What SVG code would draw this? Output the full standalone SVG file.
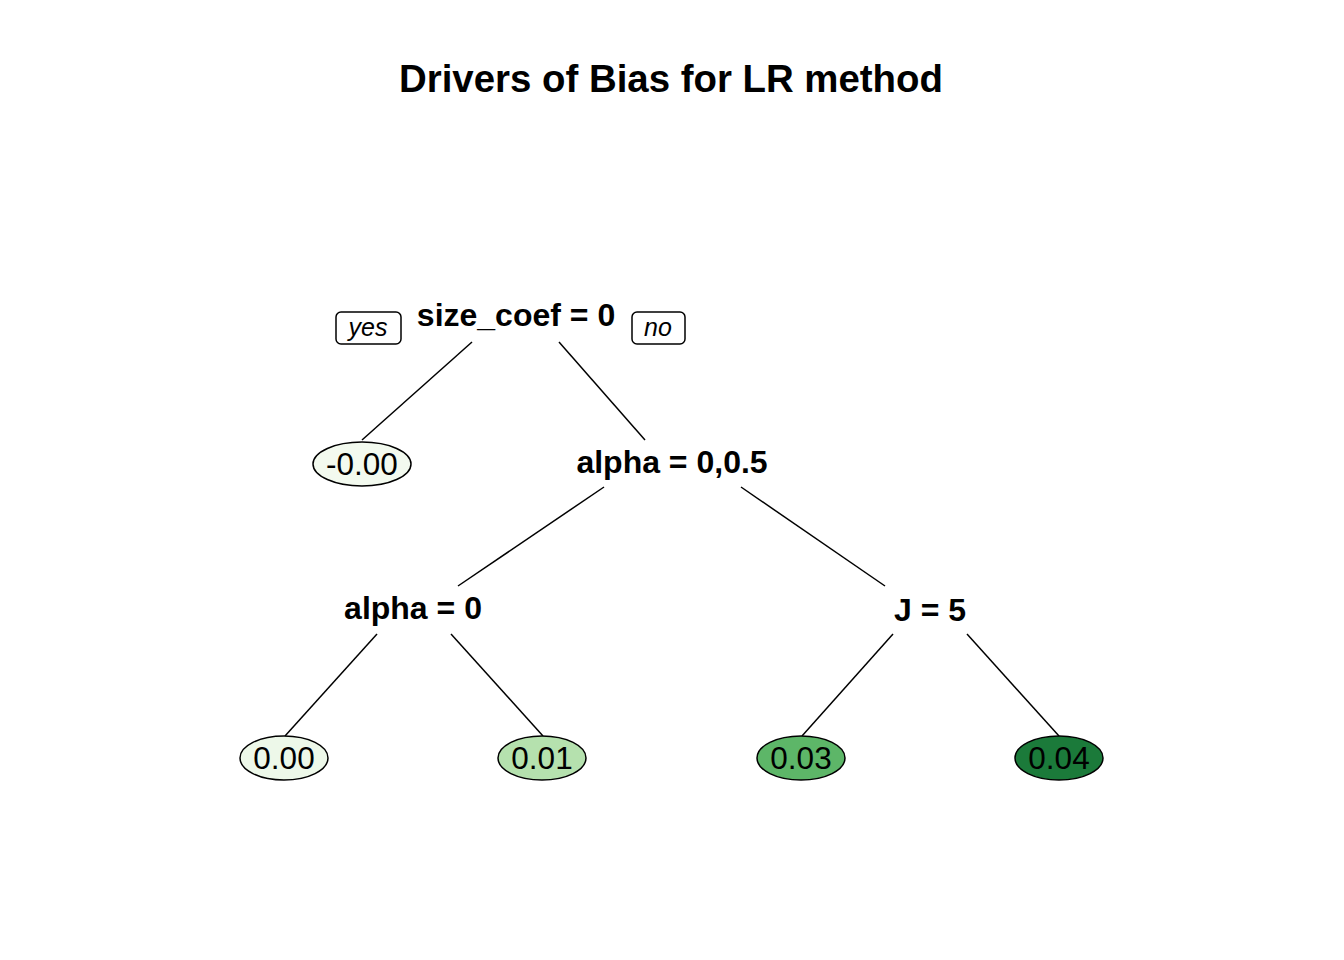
<svg xmlns="http://www.w3.org/2000/svg" width="1344" height="960" viewBox="0 0 1344 960">
<style>
.title{font-family:"Liberation Sans",Arial,sans-serif;font-weight:bold;font-size:38.4px;text-anchor:middle;fill:#000}
.split{font-family:"Liberation Sans",Arial,sans-serif;font-weight:bold;font-size:32px;text-anchor:middle;fill:#000}
.leaf{font-family:"Liberation Sans",Arial,sans-serif;font-size:31.5px;text-anchor:middle;fill:#000}
.yn{font-family:"Liberation Sans",Arial,sans-serif;font-style:italic;font-size:25px;text-anchor:middle;fill:#000}
.box{fill:#fff;stroke:#000;stroke-width:1.5}
.ell{stroke:#000;stroke-width:1.5}
.edge{stroke:#000;stroke-width:1.5;fill:none}
</style>
<rect width="1344" height="960" fill="#fff"/>
<text class="title" x="671" y="92">Drivers of Bias for LR method</text>
<g id="connectors">
<line class="edge" x1="472" y1="342" x2="362" y2="440"/>
<line class="edge" x1="559" y1="342" x2="645" y2="440"/>
<line class="edge" x1="604" y1="487" x2="458" y2="586"/>
<line class="edge" x1="741" y1="487" x2="885" y2="586"/>
<line class="edge" x1="377" y1="634" x2="285" y2="736"/>
<line class="edge" x1="451" y1="634" x2="543" y2="736"/>
<line class="edge" x1="893" y1="634" x2="802" y2="736"/>
<line class="edge" x1="967" y1="634" x2="1059" y2="736"/>
</g>
<g id="root">
<rect class="box" x="336" y="312" width="65" height="32" rx="5"/>
<text class="yn" x="368" y="336">yes</text>
<text class="split" x="516" y="326">size_coef = 0</text>
<rect class="box" x="632" y="312" width="53" height="32" rx="5"/>
<text class="yn" x="658" y="336">no</text>
</g>
<g id="leaf1">
<ellipse class="ell" cx="362" cy="464" rx="49" ry="22" fill="#F3FAEF"/>
<text class="leaf" x="362" y="475">-0.00</text>
</g>
<g id="node_alpha05">
<text class="split" x="672" y="473">alpha = 0,0.5</text>
</g>
<g id="node_alpha0">
<text class="split" x="413" y="619">alpha = 0</text>
</g>
<g id="node_J">
<text class="split" x="930" y="621">J = 5</text>
</g>
<g id="leaf2">
<ellipse class="ell" cx="284" cy="758" rx="44" ry="22" fill="#EDF8E9"/>
<text class="leaf" x="284" y="769">0.00</text>
</g>
<g id="leaf3">
<ellipse class="ell" cx="542" cy="758" rx="44" ry="22" fill="#B5E1AE"/>
<text class="leaf" x="542" y="769">0.01</text>
</g>
<g id="leaf4">
<ellipse class="ell" cx="801" cy="758" rx="44" ry="22" fill="#5DB668"/>
<text class="leaf" x="801" y="769">0.03</text>
</g>
<g id="leaf5">
<ellipse class="ell" cx="1059" cy="758" rx="44" ry="22" fill="#1B7A3A"/>
<text class="leaf" x="1059" y="769">0.04</text>
</g>
</svg>
